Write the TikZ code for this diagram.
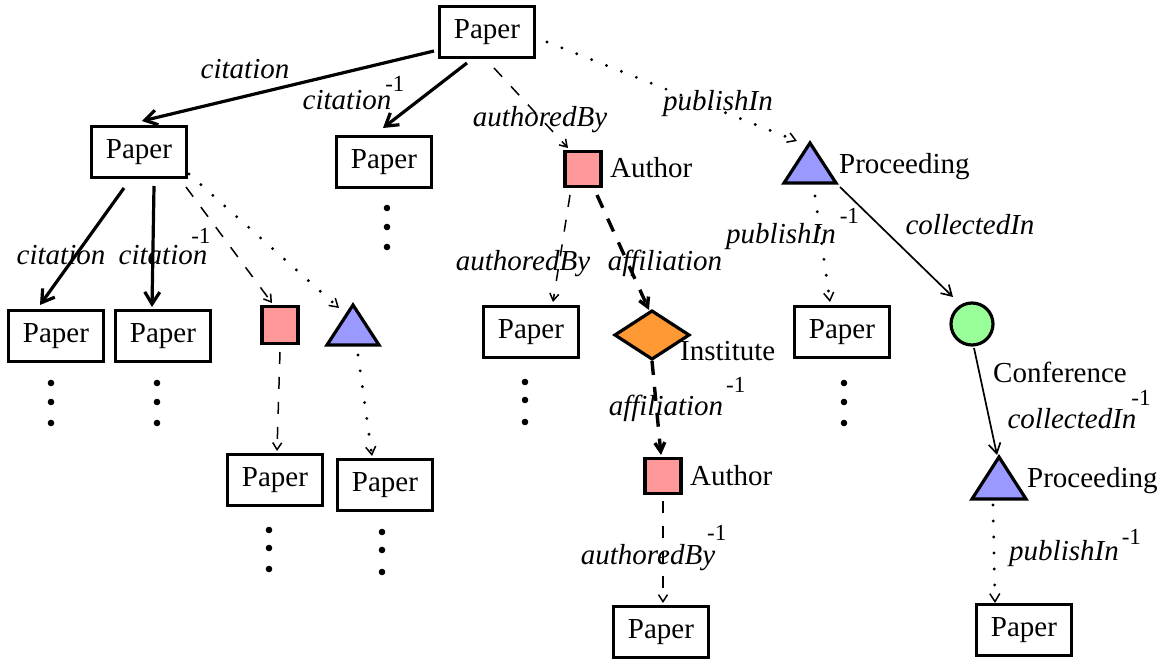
\documentclass[tikz,border=0pt]{standalone}
\usepackage{fontspec}
\setmainfont{Liberation Serif}
\usetikzlibrary{arrows.meta}
\definecolor{authred}{HTML}{FF9999}
\definecolor{procblue}{HTML}{9999FF}
\definecolor{instorange}{HTML}{FF9933}
\definecolor{confgreen}{HTML}{99FF99}
\newcommand\invsup[2]{\smash{\rlap{\hspace{#1}\raisebox{#2}{\fontsize{23}{23}\selectfont\upshape -1}}}}
\begin{document}
\begin{tikzpicture}[x=1pt,y=-1pt,
  paper/.style={draw, line width=3.6pt, minimum width=95pt, minimum height=51pt, inner sep=0pt, font=\fontsize{29}{32}\selectfont},
  authbox/.style={draw, line width=3.2pt, fill=authred, minimum width=36pt, minimum height=35pt, inner sep=0pt},
  holder/.style={minimum width=#1, inner sep=0pt, outer sep=0pt},
  triout/.style={draw, line width=3.2pt, fill=procblue, line join=miter},
  lab/.style={font=\fontsize{29}{32}\selectfont\itshape, inner sep=0pt, text height=20pt, text depth=6pt},
  tname/.style={font=\fontsize{29}{32}\selectfont, inner sep=0pt, text height=20pt, text depth=6pt, anchor=west},
  cite/.style={line width=3.2pt, -{Straight Barb[length=12pt,width=15pt]}},
  thindash/.style={line width=1.5pt, dash pattern=on 12pt off 13pt, -{Straight Barb[length=7pt,width=9pt]}},
  thickdash/.style={line width=3.4pt, dash pattern=on 14pt off 12pt, -{Straight Barb[length=9pt,width=10pt]}},
  dotline/.style={line width=3.2pt, line cap=round, dash pattern=on 0pt off 16pt, -{Straight Barb[length=8pt,width=10pt,line width=1.5pt]}},
  thinline/.style={line width=1.7pt, -{Straight Barb[length=10pt,width=12pt]}},
]
\useasboundingbox (0,0) rectangle (1168,666);

% ---------- nodes ----------
\node[paper] (top) at (487,32) {Paper};
\node[paper] (L1) at (139,152) {Paper};
\node[paper] (pm) at (384,162) {Paper};
\node[authbox] (au1) at (583,169) {};
\node[holder=52pt, minimum height=40pt] (pr1) at (810,163) {};
\draw[triout] (pr1.north) -- (pr1.south east) -- (pr1.south west) -- cycle;

\node[paper] (bl1) at (56,336) {Paper};
\node[paper] (bl2) at (163,336) {Paper};
\node[authbox, minimum height=37pt] (sq2) at (280,325) {};
\node[holder=52pt, minimum height=40pt] (tr2) at (353,325) {};
\draw[triout] (tr2.north) -- (tr2.south east) -- (tr2.south west) -- cycle;

\node[paper] (pA) at (531,332) {Paper};
\node[holder=74pt, minimum height=48pt] (inst) at (652,335) {};
\draw[draw, line width=3.2pt, fill=instorange, line join=miter] (inst.north) -- (inst.east) -- (inst.south) -- (inst.west) -- cycle;
\node[paper] (pB) at (842,332) {Paper};
\node[draw, circle, line width=3.2pt, fill=confgreen, minimum size=42pt, inner sep=0pt] (conf) at (972,324) {};

\node[paper] (pC) at (275,480) {Paper};
\node[paper] (pD) at (385,485) {Paper};
\node[authbox] (au2) at (663,476) {};
\node[holder=54pt, minimum height=42pt] (pr2) at (999,478) {};
\draw[triout] (pr2.north) -- (pr2.south east) -- (pr2.south west) -- cycle;

\node[paper] (pE) at (661,632) {Paper};
\node[paper] (pF) at (1024,630) {Paper};

% type names
\node[tname] (nau1) at (610,171) {Author};
\node[tname] (npr1) at (839,167) {Proceeding};
\node[tname] (ninst) at (680,353) {Institute};
\node[tname] (nconf) at (993,375) {Conference};
\node[tname] (nau2) at (690,478) {Author};
\node[tname] (npr2) at (1027,480) {Proceeding};

% ---------- edges ----------
\draw[cite] ([shift={(-53,19)}]top.center) -- ([shift={(3,-31)}]L1.center);
\draw[cite] ([shift={(-20,31)}]top.center) -- ([shift={(-1,-34)}]pm.center);
\draw[thindash] ([shift={(7,36)}]top.center) -- ([shift={(-15,-21)}]au1.center);
\draw[dotline] ([shift={(60,10)}]top.center) -- ([shift={(-13,-22)}]pr1.center);

\draw[cite] ([shift={(-15,36)}]L1.center) -- ([shift={(-16,-31)}]bl1.center);
\draw[cite] ([shift={(15,34)}]L1.center) -- ([shift={(-11,-29)}]bl2.center);
\draw[thindash] ([shift={(47,35)}]L1.center) -- ([shift={(-8,-22)}]sq2.center);
\draw[dotline] ([shift={(50,22)}]L1.center) -- ([shift={(-14,-17)}]tr2.center);

\draw[thindash] ([shift={(0,27)}]sq2.center) -- ([shift={(2,-29)}]pC.center);
\draw[dotline] ([shift={(5,30)}]tr2.center) -- ([shift={(-13,-29)}]pD.center);

\draw[thindash] ([shift={(-13,26)}]au1.center) -- ([shift={(22,-30)}]pA.center);
\draw[thickdash] ([shift={(14,26)}]au1.center) -- ([shift={(-3,-25)}]inst.center);
\draw[thickdash] ([shift={(0,26)}]inst.center) -- ([shift={(-2,-21)}]au2.center);
\draw[thindash] ([shift={(0,25)}]au2.center) -- ([shift={(2,-29)}]pE.center);

\draw[dotline] ([shift={(5,33)}]pr1.center) -- ([shift={(-12,-30)}]pB.center);
\draw[thinline] ([shift={(30,24)}]pr1.center) -- ([shift={(-19,-27)}]conf.center);
\draw[thinline] ([shift={(2,24)}]conf.center) -- ([shift={(-2,-23)}]pr2.center);
\draw[dotline] ([shift={(-6,27)}]pr2.center) -- ([shift={(-29,-27)}]pF.center);

% ---------- edge labels ----------
\node[lab] (l1) at (245,72) {citation};
\node[lab] (l2) at (347,103) {citation\invsup{-6pt}{18pt}};
\node[lab] (l3) at (540,120) {authoredBy};
\node[lab] (l4) at (718,104) {publishIn};
\node[lab] (l5) at (61,257) {citation};
\node[lab] (l6) at (163,257) {citation\invsup{-16pt}{21pt}};
\node[lab] (l7) at (523,263) {authoredBy};
\node[lab] (l8) at (665,263) {affiliation};
\node[lab] (l9) at (781,236) {publishIn\invsup{4pt}{20pt}};
\node[lab] (l10) at (970,227) {collectedIn};
\node[lab] (l11) at (666,408) {affiliation\invsup{3pt}{23pt}};
\node[lab] (l12) at (1072,421) {collectedIn\invsup{-5pt}{23pt}};
\node[lab] (l13) at (648,557) {authoredBy\invsup{-8pt}{24pt}};
\node[lab] (l14) at (1064,553) {publishIn\invsup{3pt}{16pt}};

% ---------- continuation dots ----------
\foreach \x/\ya/\yb/\yc in {51/383/402/423, 157/383/402/423, 387/208/227/247, 269/530/548/569, 382/532/550/572, 525/382/400/422, 844/383/402/423}{
  \fill (\x,\ya) circle (3.3pt);
  \fill (\x,\yb) circle (3.3pt);
  \fill (\x,\yc) circle (3.3pt);
}
\end{tikzpicture}
\end{document}
